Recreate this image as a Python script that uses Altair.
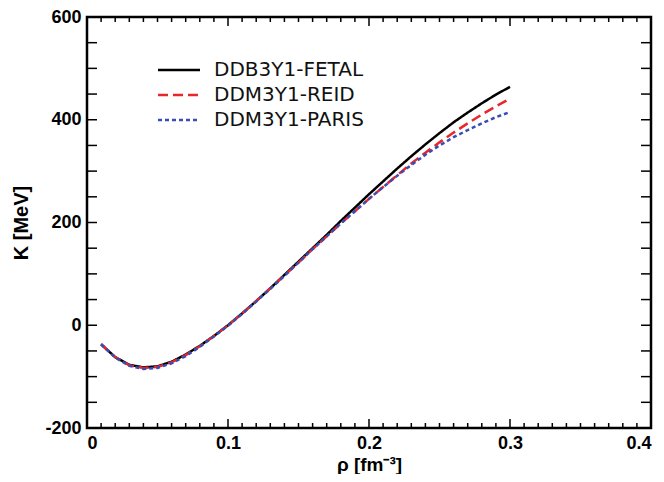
import altair as alt
import pandas as pd

# ---- data ----
rho = [0.01, 0.02, 0.03, 0.04, 0.05, 0.06, 0.07, 0.08, 0.09, 0.10,
       0.11, 0.12, 0.13, 0.14, 0.15, 0.16, 0.17, 0.18, 0.19, 0.20,
       0.21, 0.22, 0.23, 0.24, 0.25, 0.26, 0.27, 0.28, 0.29, 0.30]
k_fetal = [-37, -62, -77, -82, -80, -71, -57, -40, -21, 0,
           23, 47, 72, 98, 124, 150, 176, 203, 229, 255,
           280, 305, 329, 352, 374, 395, 414, 432, 449, 464]
k_reid = [-37, -62, -78, -83, -81, -72, -58, -41, -21, 0,
          23, 47, 72, 97, 122, 148, 173, 198, 222, 246,
          269, 292, 315, 336, 356, 375, 393, 410, 426, 441]
k_paris = [-37, -63, -79, -85, -83, -74, -60, -42, -22, -1,
           22, 46, 71, 96, 122, 148, 173, 198, 222, 246,
           269, 291, 312, 332, 350, 366, 380, 393, 405, 415]

series = ["DDB3Y1-FETAL", "DDM3Y1-REID", "DDM3Y1-PARIS"]
colors = ["#000000", "#e8262b", "#3a4db3"]
dashes = [[1, 0], [10, 5], [4, 3]]

x_labels = [0, 0.1, 0.2, 0.3, 0.4]
y_labels = [-200, 0, 200, 400, 600]
x_major_ticks = [0.1, 0.2, 0.3]
x_minor_ticks = [0.01, 0.02, 0.03, 0.04, 0.05, 0.06, 0.07, 0.08, 0.09,
                 0.11, 0.12, 0.13, 0.14, 0.15, 0.16, 0.17, 0.18, 0.19,
                 0.21, 0.22, 0.23, 0.24, 0.25, 0.26, 0.27, 0.28, 0.29,
                 0.31, 0.32, 0.33, 0.34, 0.35, 0.36, 0.37, 0.38, 0.39]
y_ticks = [-150, -100, -50, 0, 50, 100, 150, 200, 250, 300, 350, 400,
           450, 500, 550]

W, H = 564, 411

rows = []
for name, vals in zip(series, [k_fetal, k_reid, k_paris]):
    for r, k in zip(rho, vals):
        rows.append({"rho": r, "K": k, "model": name})
df = pd.DataFrame(rows)

xscale = alt.Scale(domain=[0, 0.4], nice=False, zero=False)
yscale = alt.Scale(domain=[-200, 600], nice=False, zero=False)

legend = alt.Legend(
    title=None, orient="none", legendX=80, legendY=41,
    symbolType="M-2,0H2", symbolSize=441, symbolStrokeWidth=2.5,
    labelFont="DejaVu Sans", labelFontSize=20, labelColor="#111111",
    labelOffset=23, rowPadding=3, padding=0, labelLimit=400,
)

lines = alt.Chart(df).mark_line(strokeWidth=2.5, clip=True).encode(
    x=alt.X("rho:Q", scale=xscale,
            axis=alt.Axis(values=x_labels, labelExpr="datum.value + ''",
                          labelFlush=True, labelFlushOffset=0,
                          title="ρ [fm⁻³]", ticks=False, domain=False,
                          grid=False, labelPadding=6,
                          titleY=42, titleBaseline="alphabetic",
                          titleFontSize=19)),
    y=alt.Y("K:Q", scale=yscale,
            axis=alt.Axis(values=y_labels, labelExpr="datum.value + ''",
                          title="K [MeV]", ticks=False, domain=False,
                          grid=False, labelPadding=6,
                          titleX=-66, titleBaseline="middle")),
    color=alt.Color("model:N", scale=alt.Scale(domain=series, range=colors),
                    legend=legend),
    strokeDash=alt.StrokeDash("model:N",
                              scale=alt.Scale(domain=series, range=dashes),
                              legend=legend),
    order=alt.Order("order:Q"),
).transform_calculate(
    order="indexof(['DDB3Y1-FETAL','DDM3Y1-REID','DDM3Y1-PARIS'], datum.model)"
)

xmaj = pd.DataFrame({"x": x_major_ticks})
xmin = pd.DataFrame({"x": x_minor_ticks})
yt = pd.DataFrame({"y": y_ticks})


def xrule(d, y0, y1):
    return alt.Chart(d).mark_rule(color="black", strokeWidth=1.5).encode(
        x=alt.X("x:Q", scale=xscale),
        y=alt.value(y0), y2=alt.value(y1))


def yrule(x0, x1):
    return alt.Chart(yt).mark_rule(color="black", strokeWidth=1.5).encode(
        y=alt.Y("y:Q", scale=yscale),
        x=alt.value(x0), x2=alt.value(x1))


chart = alt.layer(
    lines,
    xrule(xmaj, H, H - 9), xrule(xmin, H, H - 5),
    xrule(xmaj, 0, 9), xrule(xmin, 0, 5),
    yrule(0, 10), yrule(W, W - 10),
).properties(
    width=W, height=H,
    autosize=alt.AutoSizeParams(type="none"),
    padding={"left": 79, "top": 9, "right": 5, "bottom": 46},
).configure_view(
    stroke="black", strokeWidth=2.5
).configure_axis(
    labelFont="Liberation Sans", labelFontWeight="bold",
    labelFontSize=18, labelColor="black",
    titleFont="Liberation Sans", titleFontWeight="bold",
    titleFontSize=20, titleColor="black",
)

chart.save("out.html", embed_options={"renderer": "svg", "actions": False})
